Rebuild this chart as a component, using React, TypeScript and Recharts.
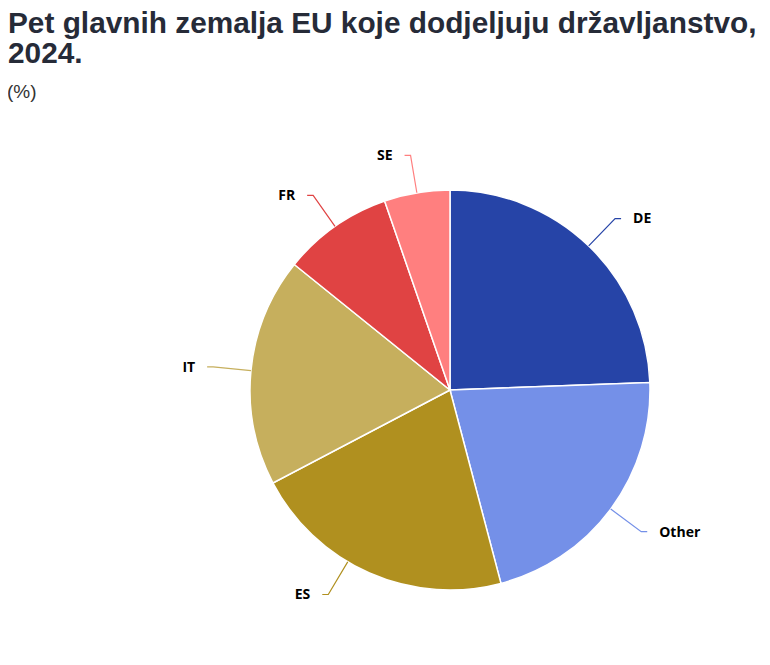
import { PieChart, Pie, Cell } from "recharts";

const countries = ["DE", "Other", "ES", "IT", "FR", "SE"];
const shares = [24.4, 21.5, 21.4, 18.5, 8.9, 5.3];
const colors = ["#2644A7", "#7490E8", "#B0901F", "#C6AF5D", "#E04343", "#FF7F7F"];

const data = countries.map((name, i) => ({ name, value: shares[i] }));

// small angular nudge for labels that the original moved off the slice middle
const labelNudge: Record<string, number> = { ES: -7 };

const RADIAN = Math.PI / 180;

// label line: radial segment, short horizontal tail, then bold text
// eslint-disable-next-line @typescript-eslint/no-explicit-any
const renderLabel = (props: any) => {
  const { cx, cy, midAngle, outerRadius, name, index } = props;
  const angle = midAngle + (labelNudge[name] || 0);
  const cos = Math.cos(-angle * RADIAN);
  const sin = Math.sin(-angle * RADIAN);
  const sx = cx + outerRadius * cos;
  const sy = cy + outerRadius * sin;
  const mx = cx + (outerRadius + 38) * cos;
  const my = cy + (outerRadius + 38) * sin;
  const dir = cos >= 0 ? 1 : -1;
  const ex = mx + dir * 6;
  const color = colors[index];
  return (
    <g>
      <polyline
        points={`${sx},${sy} ${mx},${my} ${ex},${my}`}
        fill="none"
        stroke={color}
        strokeWidth={1.2}
      />
      <text
        x={ex + dir * 12}
        y={my}
        dy="0.35em"
        textAnchor={dir > 0 ? "start" : "end"}
        fontFamily="'Open Sans', sans-serif"
        fontWeight={700}
        fontSize={14}
        fill="#000"
      >
        {name}
      </text>
    </g>
  );
};

export default function App() {
  return (
    <div style={{ position: "relative", width: 754, height: 649 }}>
      <div
        style={{
          position: "absolute",
          left: 0,
          top: 0,
          fontFamily: "'Liberation Sans', Arial, sans-serif",
          fontWeight: 700,
          fontSize: 29.8,
          lineHeight: "30px",
          color: "#262B38",
          width: 770,
          whiteSpace: "nowrap",
        }}
      >
        Pet glavnih zemalja EU koje dodjeljuju državljanstvo,
        <br />
        2024.
      </div>
      <div
        style={{
          position: "absolute",
          left: -1,
          top: 73,
          fontFamily: "'Liberation Sans', Arial, sans-serif",
          fontSize: 19,
          color: "#333",
        }}
      >
        (%)
      </div>
      <PieChart
        width={754}
        height={649}
        margin={{ top: 0, right: 0, bottom: 0, left: 0 }}
        style={{ position: "absolute", left: 0, top: 0 }}
      >
        <Pie
          data={data}
          dataKey="value"
          nameKey="name"
          cx={442}
          cy={382}
          outerRadius={200}
          startAngle={90}
          endAngle={-270}
          stroke="#fff"
          strokeWidth={1.5}
          label={renderLabel}
          labelLine={false}
          isAnimationActive={false}
        >
          {data.map((d, i) => (
            <Cell key={d.name} fill={colors[i]} />
          ))}
        </Pie>
      </PieChart>
    </div>
  );
}
